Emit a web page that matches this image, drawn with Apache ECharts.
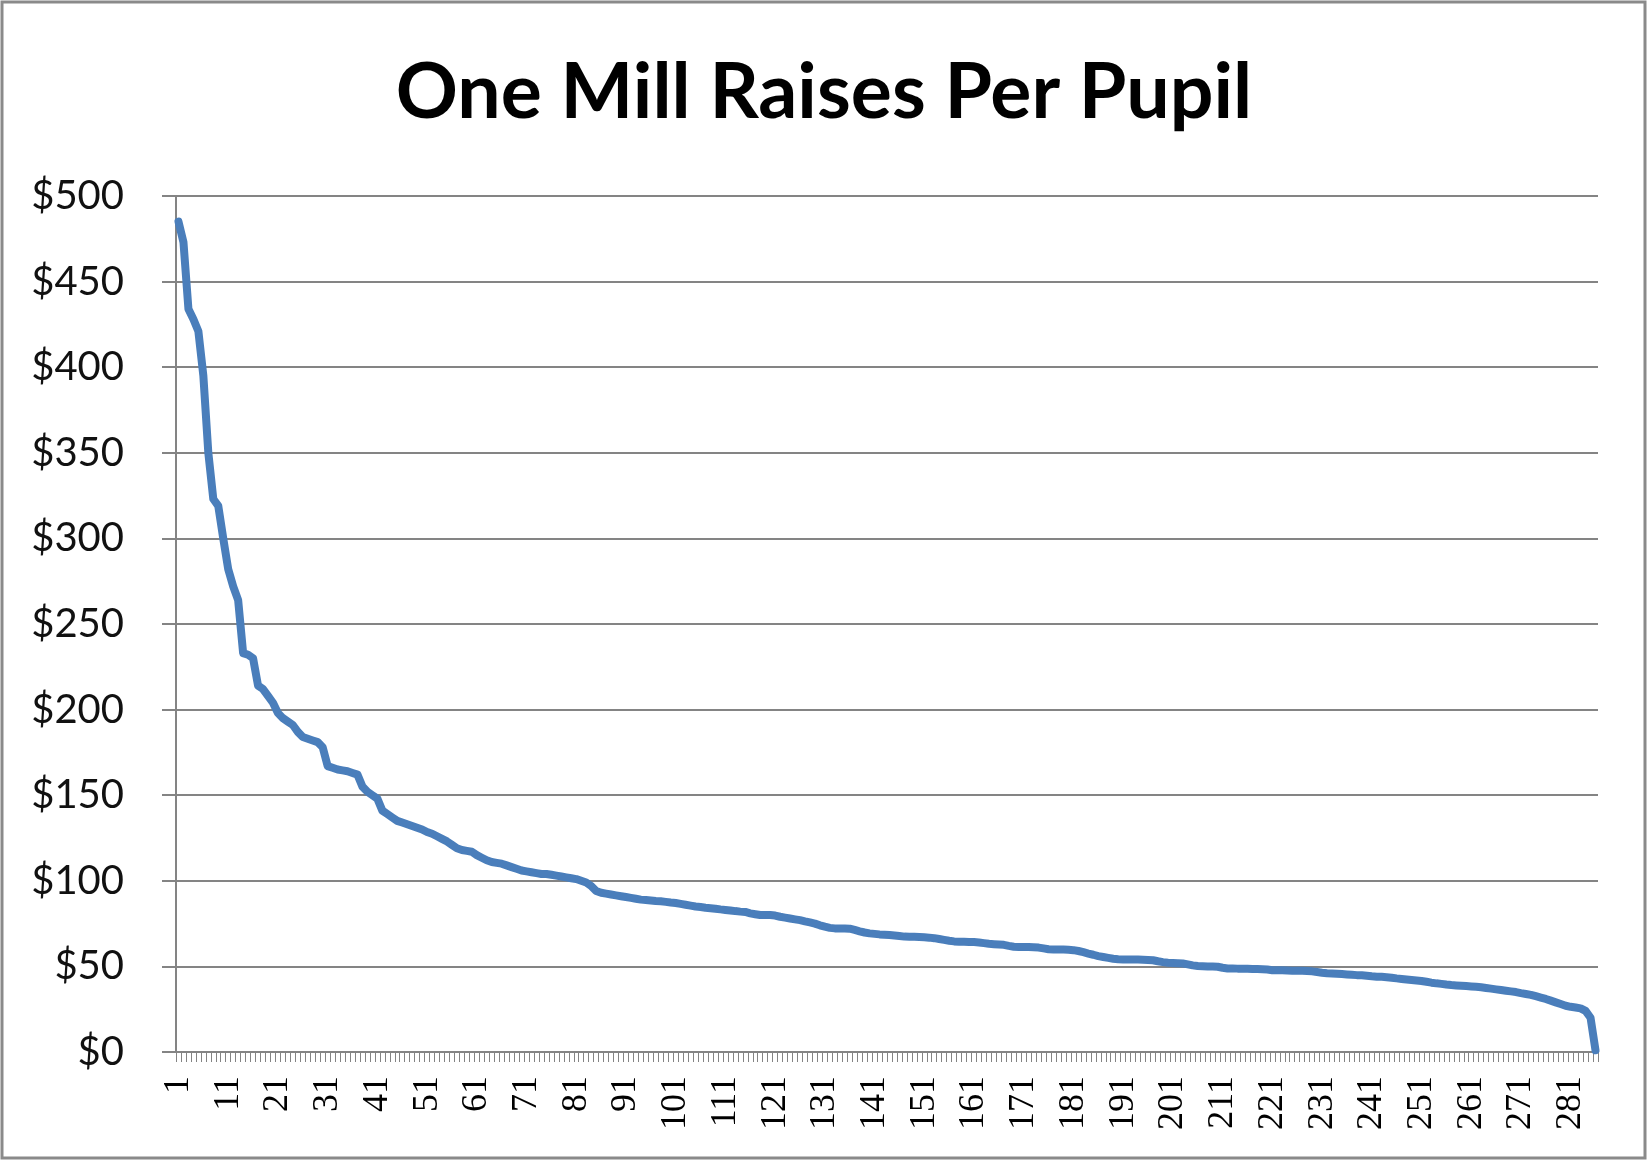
<!DOCTYPE html>
<html>
<head>
<meta charset="utf-8">
<title>One Mill Raises Per Pupil</title>
<script src="https://cdn.jsdelivr.net/npm/echarts@6/dist/echarts.min.js"></script>
<style>
    html, body { margin: 0; padding: 0; background: #fff; }
    #chart { width: 1648px; height: 1161px; }
</style>
</head>
<body>
<div id="chart"></div>
<script>
// districts sorted by what one mill raises per pupil (dollars)
var raisesPerPupil = [
    485, 473, 434, 428, 421, 395, 350, 323, 319, 300,
    282, 272, 264, 233, 232, 230, 214, 212, 208, 204,
    198, 195, 193, 191, 187, 184, 183, 182, 181, 178,
    167, 166, 165, 164.5, 164, 163, 162, 155, 152, 150,
    148, 141, 139, 137, 135, 134, 133, 132, 131, 130,
    128.5, 127.5, 126, 124.5, 123, 121, 119, 118, 117.5, 117,
    115, 113.5, 112, 111, 110.5, 110, 109, 108, 107, 106,
    105.5, 105, 104.5, 104, 104, 103.5, 103, 102.5, 102, 101.5,
    101, 100, 99, 97, 94, 93, 92.5, 92, 91.5, 91,
    90.5, 90, 89.5, 89, 88.8, 88.5, 88.2, 88, 87.7, 87.3,
    87, 86.5, 86, 85.5, 85, 84.7, 84.3, 84, 83.7, 83.3,
    83, 82.7, 82.3, 82, 81.8, 81, 80.5, 80, 80, 80,
    79.7, 79, 78.5, 78, 77.5, 77, 76.3, 75.7, 75, 74,
    73.2, 72.5, 72.2, 72.2, 72.2, 72, 71.3, 70.5, 69.8, 69.3,
    69, 68.7, 68.5, 68.3, 68, 67.7, 67.4, 67.3, 67.3, 67.2,
    67, 66.8, 66.5, 66, 65.5, 65, 64.6, 64.4, 64.4, 64.3,
    64.2, 64, 63.6, 63.2, 63, 62.8, 62.6, 62, 61.5, 61.4,
    61.4, 61.3, 61.2, 61, 60.5, 60, 59.9, 59.9, 59.8, 59.7,
    59.5, 59, 58.3, 57.5, 56.8, 56, 55.5, 55, 54.5, 54.2,
    54.1, 54.1, 54, 54, 53.9, 53.8, 53.6, 53, 52.5, 52.1,
    52, 51.9, 51.7, 51.2, 50.6, 50.2, 50.1, 50, 49.9, 49.8,
    49.2, 48.8, 48.8, 48.7, 48.7, 48.6, 48.5, 48.5, 48.4, 48.2,
    47.8, 47.8, 47.7, 47.6, 47.5, 47.5, 47.4, 47.3, 47.1, 46.7,
    46.3, 46, 45.9, 45.7, 45.5, 45.3, 45.1, 44.9, 44.8, 44.5,
    44.2, 44, 43.9, 43.7, 43.4, 43, 42.7, 42.4, 42.1, 41.8,
    41.5, 41, 40.5, 40.1, 39.8, 39.4, 39.1, 38.9, 38.7, 38.5,
    38.3, 38.1, 37.8, 37.4, 37, 36.6, 36.2, 35.8, 35.4, 35,
    34.4, 33.9, 33.4, 32.6, 31.8, 31, 30, 29, 28, 27,
    26.4, 26, 25.5, 24, 20, 1
];

// category labels are just the rank 1..n
var ranks = [];
for (var i = 0; i < raisesPerPupil.length; i++) {
    ranks.push(String(i + 1));
}

var yMin = 0;
var yMax = 500;
var yStep = 50;

var gridColor = '#848484';

var option = {
    animation: false,
    backgroundColor: '#fff',
    title: {
        text: 'One Mill Raises Per Pupil',
        left: 'center',
        top: 50,
        textStyle: {
            fontFamily: 'Lato',
            fontWeight: 'bold',
            fontSize: 77,
            color: '#000'
        }
    },
    graphic: [
        {
            type: 'rect',
            shape: { x: 2, y: 2, width: 1643, height: 1156 },
            style: { fill: null, stroke: '#8a8a8a', lineWidth: 3 },
            silent: true
        }
    ],
    grid: {
        left: 176,
        right: 50,
        top: 196,
        bottom: 109,
        containLabel: false
    },
    xAxis: {
        type: 'category',
        boundaryGap: true,
        data: ranks,
        axisLine: { lineStyle: { color: gridColor, width: 2 } },
        axisTick: {
            show: true,
            interval: 0,
            length: 10,
            lineStyle: { color: gridColor, width: 1 }
        },
        axisLabel: {
            interval: 9,
            rotate: 90,
            margin: 24,
            fontFamily: 'Liberation Serif',
            fontSize: 36,
            color: '#000'
        }
    },
    yAxis: {
        type: 'value',
        min: yMin,
        max: yMax,
        interval: yStep,
        axisLine: { show: true, lineStyle: { color: gridColor, width: 2 } },
        axisTick: { show: true, length: 14, lineStyle: { color: gridColor, width: 2 } },
        splitLine: { show: true, lineStyle: { color: gridColor, width: 2 } },
        axisLabel: {
            margin: 52,
            fontFamily: 'Lato',
            fontSize: 40,
            color: '#111',
            formatter: function (v) { return '$' + v; }
        }
    },
    series: [
        {
            name: 'One Mill Raises Per Pupil',
            type: 'line',
            data: raisesPerPupil,
            showSymbol: false,
            lineStyle: { color: '#4a7ebb', width: 8, join: 'round', cap: 'round' },
            itemStyle: { color: '#4a7ebb' }
        }
    ]
};

var chart = echarts.init(document.getElementById('chart'));
chart.setOption(option);
window.addEventListener('resize', function () { chart.resize(); });
</script>
</body>
</html>
